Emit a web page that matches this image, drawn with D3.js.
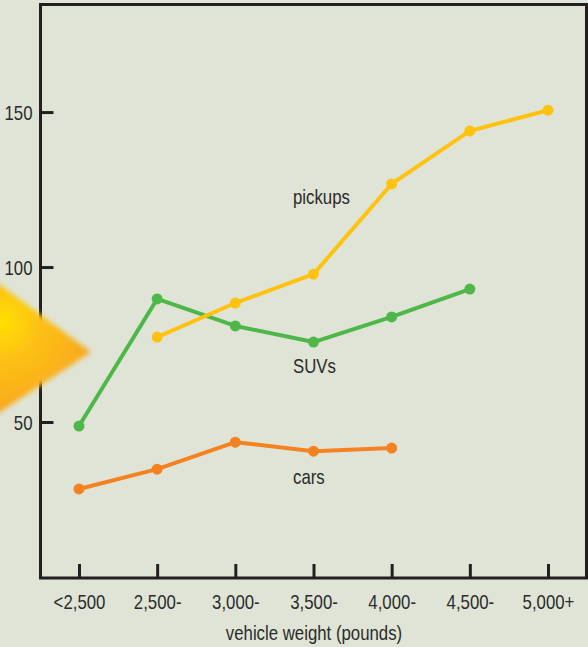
<!DOCTYPE html>
<html>
<head>
<meta charset="utf-8">
<script src="https://cdn.jsdelivr.net/npm/d3@7"></script>
<style>
  html, body { margin: 0; padding: 0; background: #dfe4d6; }
  svg { display: block; }
  text { font-family: "Liberation Sans", Arial, sans-serif; fill: #2b2b2b; }
</style>
</head>
<body>
<svg id="chart" width="588" height="647"></svg>
<script>
// Weight classes along the x axis
const categories = ["<2,500", "2,500-", "3,000-", "3,500-", "4,000-", "4,500-", "5,000+"];

// Series values per weight class (null = no data for that class)
const carsValues    = [28.4, 34.8, 43.5, 40.6, 41.6, null, null];
const suvValues     = [48.7, 89.7, 81.0, 75.8, 83.9, 92.9, null];
const pickupValues  = [null, 77.4, 88.4, 97.7, 126.8, 143.9, 150.6];

const yTicks = [50, 100, 150];
const xTitle = "vehicle weight (pounds)";

const series = [
  { name: "cars",    values: carsValues,   color: "#f58220", label: "cars",    labelAt: [293, 484] },
  { name: "SUVs",    values: suvValues,    color: "#4db848", label: "SUVs",    labelAt: [293, 373] },
  { name: "pickups", values: pickupValues, color: "#ffc20e", label: "pickups", labelAt: [293, 204] }
];

// Condensed lettering: regular face squeezed horizontally
const FONT_SIZE = 20;
const SQUEEZE = 0.84;

const svg = d3.select("#chart");
const frame = { left: 40.5, right: 586.5, top: 4.5, bottom: 578 };

const x = d3.scalePoint().domain(categories).range([79, 548]);
const y = d3.scaleLinear().domain([0, 184.7]).range([577, 4.5]);

// Places a condensed text element so that its anchor lands at (px, py)
function condensed(sel, px, py) {
  sel.attr("x", 0).attr("y", 0).attr("dy", null)
    .attr("transform", `translate(${px},${py}) scale(${SQUEEZE},1)`)
    .style("font-size", FONT_SIZE + "px")
    .style("font-family", "'Liberation Sans', Arial, sans-serif")
    .attr("fill", "#2b2b2b");
}

// Frame around the plot
svg.append("rect")
  .attr("x", frame.left).attr("y", frame.top)
  .attr("width", frame.right - frame.left)
  .attr("height", frame.bottom - frame.top)
  .attr("fill", "none").attr("stroke", "#231f20").attr("stroke-width", 3);

// Y axis ticks (inward) and labels
const yAxis = d3.axisLeft(y).tickValues(yTicks).tickSize(0).tickPadding(0);
const gy = svg.append("g").attr("transform", `translate(${frame.left},0)`).call(yAxis);
gy.select(".domain").remove();
gy.selectAll(".tick line").attr("x1", 0).attr("x2", 13)
  .attr("stroke", "#231f20").attr("stroke-width", 3);
gy.selectAll(".tick text").each(function () {
  condensed(d3.select(this).attr("text-anchor", "end"), -8, 7);
});

// X axis ticks (pointing up) and labels
const xAxis = d3.axisBottom(x).tickSize(0).tickPadding(0);
const gx = svg.append("g").attr("transform", `translate(0,${frame.bottom})`).call(xAxis);
gx.select(".domain").remove();
gx.selectAll(".tick line").attr("y1", 0).attr("y2", -14)
  .attr("stroke", "#231f20").attr("stroke-width", 3);
gx.selectAll(".tick text").each(function () {
  condensed(d3.select(this).attr("text-anchor", "middle"), 0, 31);
});

svg.append("text")
  .attr("text-anchor", "middle")
  .text(xTitle)
  .call(condensed, 314, 640);

// Pointer arrow on the left edge
const defs = svg.append("defs");
const grad = defs.append("radialGradient").attr("id", "arrowFill")
  .attr("gradientUnits", "userSpaceOnUse")
  .attr("cx", 2).attr("cy", 322).attr("r", 105);
grad.append("stop").attr("offset", "0%").attr("stop-color", "#ffe100");
grad.append("stop").attr("offset", "35%").attr("stop-color", "#fdc115");
grad.append("stop").attr("offset", "100%").attr("stop-color", "#f6a320");
const blur = defs.append("filter").attr("id", "soft")
  .attr("x", "-20%").attr("y", "-20%").attr("width", "140%").attr("height", "140%");
blur.append("feGaussianBlur").attr("stdDeviation", 2.8);

svg.append("path")
  .attr("d", "M-12,276 L91,352 L-12,420 Z")
  .attr("fill", "url(#arrowFill)")
  .attr("filter", "url(#soft)");

// Lines and markers
const line = d3.line()
  .defined(d => d.v != null)
  .x(d => x(d.c))
  .y(d => y(d.v));

series.forEach(s => {
  const pts = categories.map((c, i) => ({ c, v: s.values[i] }));
  const g = svg.append("g");
  g.append("path")
    .datum(pts)
    .attr("d", line)
    .attr("fill", "none")
    .attr("stroke", s.color)
    .attr("stroke-width", 4)
    .attr("stroke-linejoin", "round");
  g.selectAll("circle")
    .data(pts.filter(d => d.v != null))
    .join("circle")
    .attr("cx", d => x(d.c))
    .attr("cy", d => y(d.v))
    .attr("r", 5.5)
    .attr("fill", s.color);
  svg.append("text")
    .text(s.label)
    .call(condensed, s.labelAt[0], s.labelAt[1]);
});
</script>
</body>
</html>
